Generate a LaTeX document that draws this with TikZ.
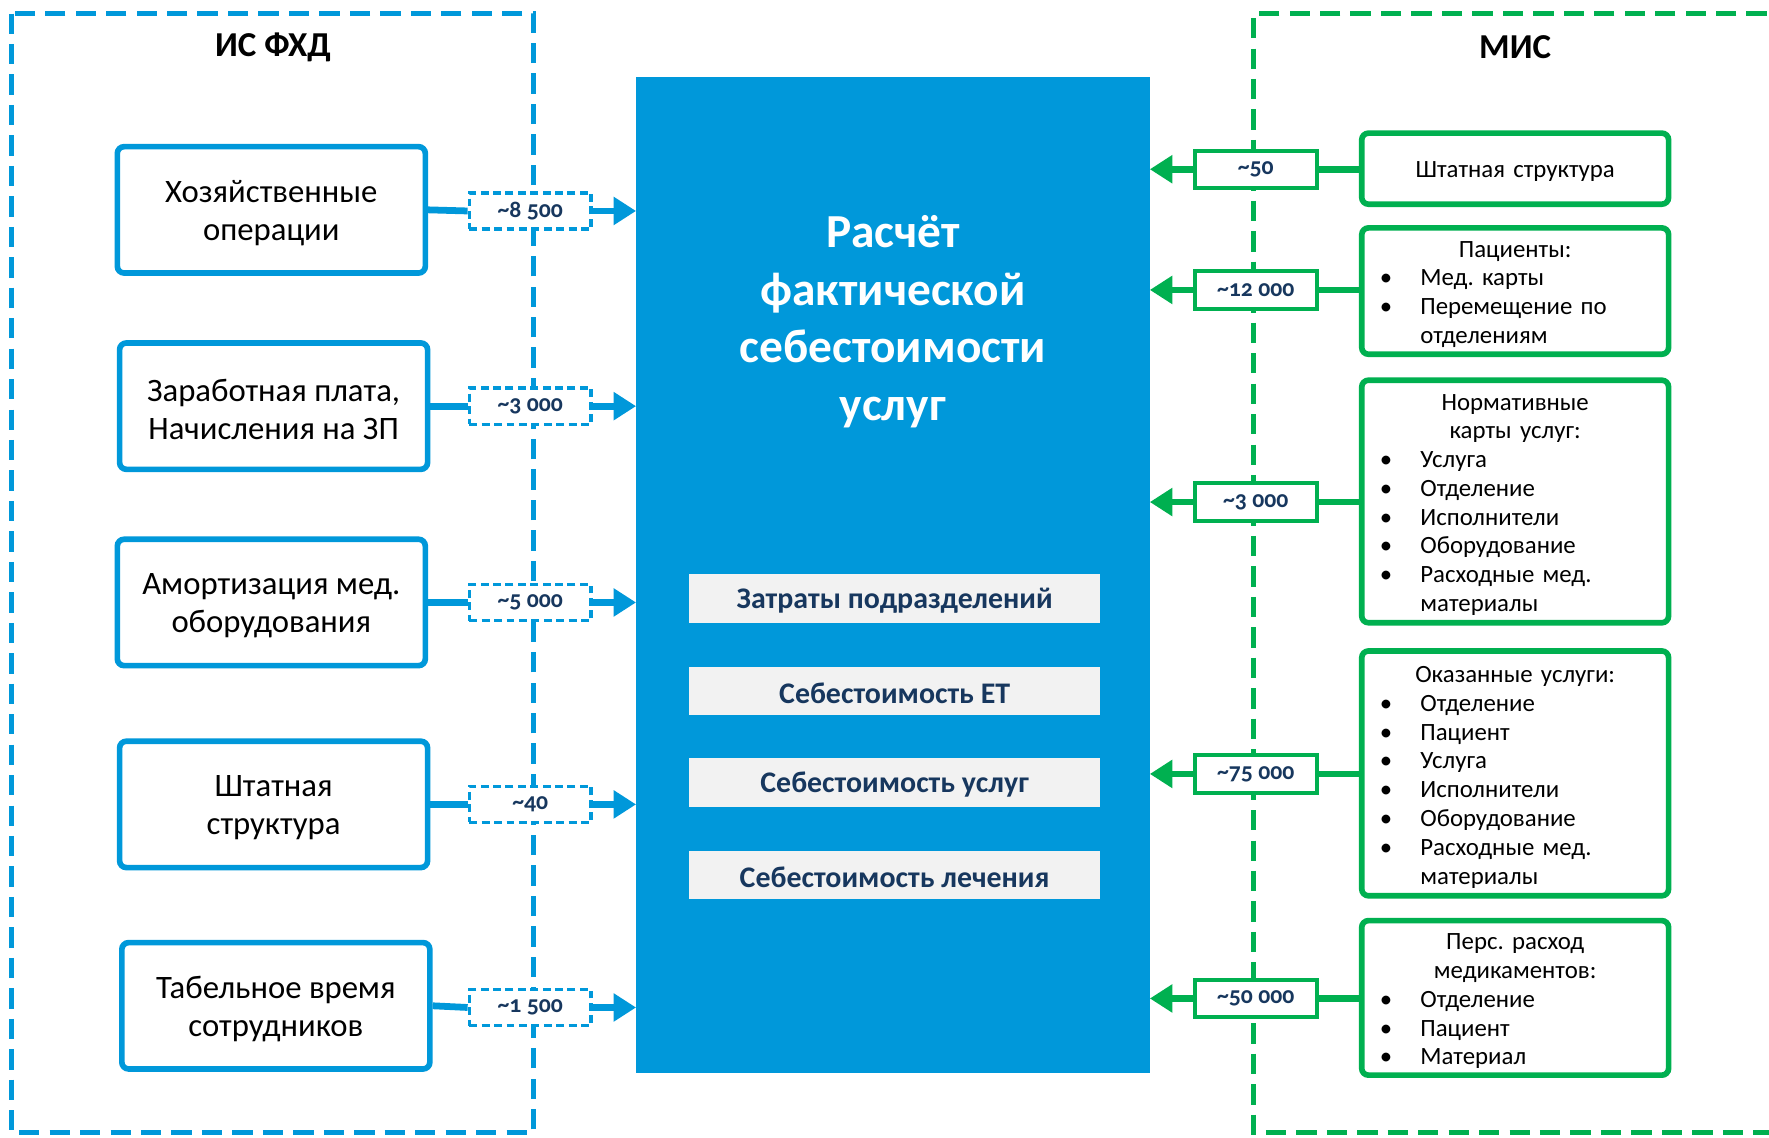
\documentclass[tikz,border=0pt]{standalone}
\usepackage{fontspec}
\setmainfont{Carlito}
\newfontfamily\numfont[Numbers=OldStyle]{Carlito}
\usetikzlibrary{arrows.meta}
\definecolor{cblue}{RGB}{0,152,218}
\definecolor{cgreen}{RGB}{0,176,80}
\definecolor{cdark}{RGB}{23,55,94}
\definecolor{cgray}{RGB}{242,242,242}
\frenchspacing
\newcommand\itm[1]{\par\noindent\hspace*{11pt}\makebox[36pt][l]{•}#1}
\newcommand\cont[1]{\par\noindent\hspace*{47pt}#1}
\tikzset{
  lbox/.style={draw=cblue, line width=5pt, rounded corners=6pt, fill=white,
    minimum width=273pt, minimum height=112pt, inner sep=0pt},
  ltext/.style={align=center, inner sep=0pt, yshift=-3pt,
    font=\fontsize{29}{34}\selectfont},
  rbox/.style={draw=cgreen, line width=5pt, rounded corners=6pt, fill=white,
    minimum width=272pt, inner sep=0pt},
  rtext/.style={inner sep=0pt, text width=262pt,
    font=\fontsize{22}{25.5}\selectfont},
  bnum/.style={draw=cblue, line width=3pt, dash pattern=on 7pt off 4pt, fill=white,
    minimum width=108pt, minimum height=32pt, inner sep=0pt,
    font=\numfont\bfseries\fontsize{21}{22}\selectfont, text=cdark},
  gnum/.style={draw=cgreen, line width=3.5pt, fill=white,
    minimum width=108pt, minimum height=33pt, inner sep=0pt,
    font=\numfont\bfseries\fontsize{21}{22}\selectfont, text=cdark},
  graybar/.style={fill=cgray, minimum width=364pt, minimum height=43pt, inner sep=0pt},
  gtext/.style={inner sep=0pt, yshift=-2pt,
    font=\bfseries\fontsize{26.5}{30}\selectfont, text=cdark},
  bconn/.style={draw=cblue, line width=6pt},
  gconn/.style={draw=cgreen, line width=6pt},
  btip/.style={-{Triangle[length=20pt,width=24pt]}},
  titl/.style={font=\bfseries\fontsize{31}{34}\selectfont},
}
\begin{document}
\begin{tikzpicture}[x=1pt,y=-1pt]
\useasboundingbox (0,0) rectangle (1568,1008);
\fill[white] (0,0) rectangle (1568,1008);
% group frames
\draw[cblue, line width=4.5pt, dash pattern=on 18pt off 9pt] (10,12) rectangle (473,1004);
\begin{scope}
\clip (0,0) rectangle (1568,1008);
\draw[cgreen, line width=4.5pt, dash pattern=on 18pt off 9pt] (1620,12) -- (1111,12) -- (1111,1004) -- (1620,1004);
\end{scope}
\node[titl] (t1) at (242,42) {ИС ФХД};
\node[titl] (t2) at (1343,42) {МИС};
% central block
\node[fill=cblue, minimum width=455pt, minimum height=883pt, inner sep=0pt] (main) at (791.5,509.5) {};
\node[text=white, font=\bfseries\fontsize{42}{51}\selectfont, align=center] (mt) at (791.5,285) {Расчёт\\фактической\\себестоимости\\услуг};
\node[graybar, label={[gtext]center:Затраты подразделений}] (g1) at (793,530.5) {};
\node[graybar, label={[gtext]center:Себестоимость ЕТ}] (g2) at (793,612.5) {};
\node[graybar, label={[gtext]center:Себестоимость услуг}] (g3) at (793,693.5) {};
\node[graybar, label={[gtext]center:Себестоимость лечения}] (g4) at (793,775.5) {};
% left boxes
\node[lbox, label={[ltext]center:Хозяйственные\\операции}] (l1) at (240.5,186) {};
\node[lbox, label={[ltext]center:{Заработная плата,\\Начисления на ЗП}}] (l2) at (242.5,360) {};
\node[lbox, label={[ltext]center:Амортизация мед.\\оборудования}] (l3) at (240.5,534) {};
\node[lbox, label={[ltext]center:Штатная\\структура}] (l4) at (242.5,713) {};
\node[lbox, label={[ltext]center:Табельное время\\сотрудников}] (l5) at (244.5,891.5) {};
\node[bnum] (n1) at (470,187) {\textasciitilde8 500};
\node[bnum] (n2) at (470,360) {\textasciitilde3 000};
\node[bnum] (n3) at (470,534) {\textasciitilde5 000};
\node[bnum] (n4) at (470,713) {\textasciitilde40};
\node[bnum] (n5) at (470,893) {\textasciitilde1 500};
\foreach \i in {1,...,5}{
  \draw[bconn] (l\i.east) -- (n\i.west);
  \draw[bconn, btip] (n\i.east) -- (n\i.east -| main.west);
}
% right boxes
\node[rbox, minimum height=63pt] (r1) at (1343,149.5) {};
\node[rbox, minimum height=112pt] (r2) at (1343,258) {};
\node[rbox, minimum height=215pt] (r3) at (1343,444.5) {};
\node[rbox, minimum height=217pt] (r4) at (1343,685.5) {};
\node[rbox, minimum height=137pt] (r5) at (1343,884.5) {};
\node[rtext, align=center] (r1t) at (1343,152) {Штатная структура};
\node[rtext] (r2t) at (1343,261) {\centering Пациенты:\par\raggedright
  \itm{Мед. карты}\itm{Перемещение по}\cont{отделениям}};
\node[rtext] (r3t) at (1343,447.5) {\centering Нормативные\par карты услуг:\par\raggedright
  \itm{Услуга}\itm{Отделение}\itm{Исполнители}\itm{Оборудование}\itm{Расходные мед.}\cont{материалы}};
\node[rtext] (r4t) at (1343,689) {\centering Оказанные услуги:\par\raggedright
  \itm{Отделение}\itm{Пациент}\itm{Услуга}\itm{Исполнители}\itm{Оборудование}\itm{Расходные мед.}\cont{материалы}};
\node[rtext] (r5t) at (1343,887.5) {\centering Перс. расход\par медикаментов:\par\raggedright
  \itm{Отделение}\itm{Пациент}\itm{Материал}};
\node[gnum] (m1) at (1113,150) {\textasciitilde50};
\node[gnum] (m2) at (1113,257) {\textasciitilde12 000};
\node[gnum] (m3) at (1113,445) {\textasciitilde3 000};
\node[gnum] (m4) at (1113,686) {\textasciitilde75 000};
\node[gnum] (m5) at (1113,885) {\textasciitilde50 000};
\foreach \i in {1,...,5}{
  \draw[gconn] (r\i.west |- m\i) -- (m\i.east);
  \draw[gconn, btip] (m\i.west) -- (m\i.west -| main.east);
}
\end{tikzpicture}
\end{document}
